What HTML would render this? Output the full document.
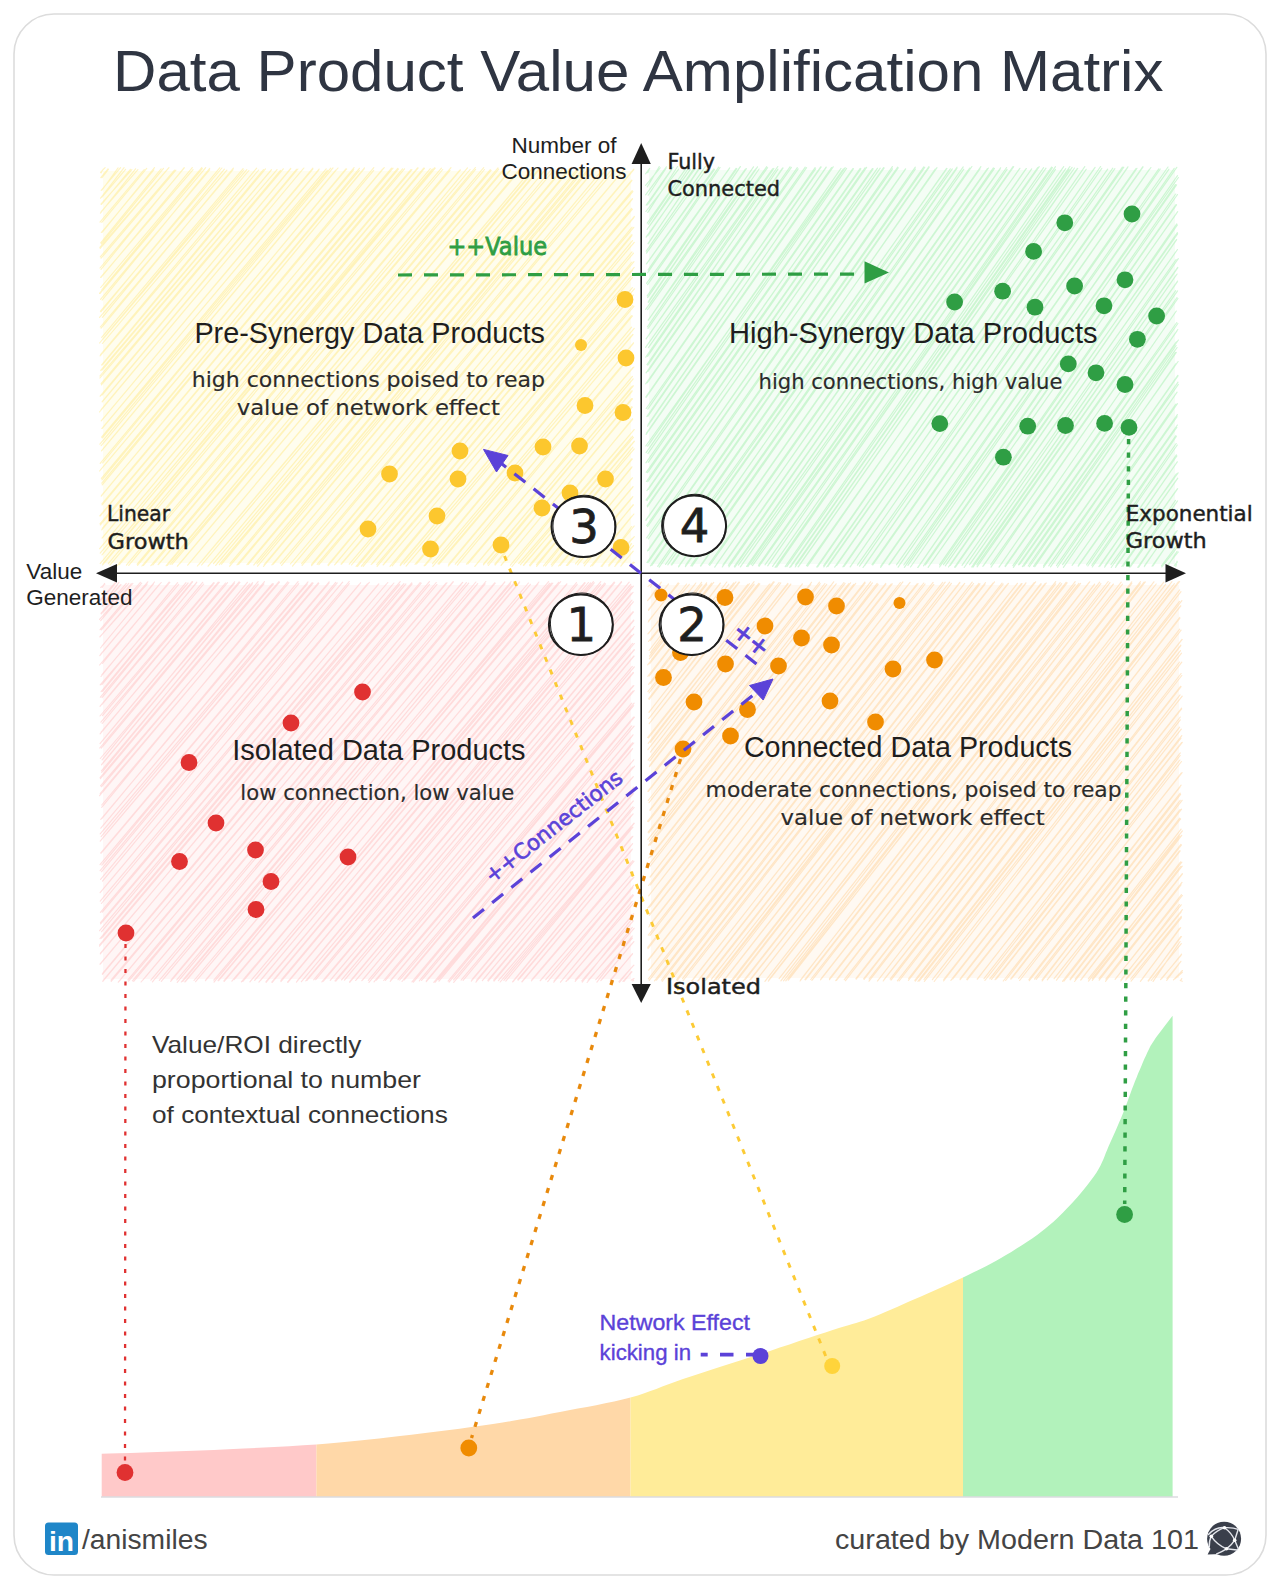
<!DOCTYPE html>
<html lang="en"><head><meta charset="utf-8"><title>Data Product Value Amplification Matrix</title>
<style>html,body{margin:0;padding:0;background:#fff}svg{display:block}</style></head>
<body>
<svg width="1280" height="1590" viewBox="0 0 1280 1590">
<defs><filter id="soft" x="-5%" y="-5%" width="110%" height="110%"><feGaussianBlur stdDeviation="0.6"/></filter></defs>
<rect width="1280" height="1590" fill="#ffffff"/>
<rect x="14" y="14" width="1252" height="1561" rx="40" ry="40" fill="#ffffff" stroke="#dcdcdc" stroke-width="1.6"/>
<text x="113.0" y="91.0" font-family='"Liberation Sans", Arial, sans-serif' font-size="58" fill="#2f3542" font-weight="normal" textLength="1050.5" lengthAdjust="spacingAndGlyphs">Data Product Value Amplification Matrix</text>
<g filter="url(#soft)">
<rect x="103" y="171" width="528" height="392" fill="#fffdee"/>
<path d="M100.5 172.3L105.1 167.7M101.1 173.0L103.3 169.0M100.8 177.6L108.0 168.8M102.0 177.7L108.4 169.4M101.2 190.4L120.6 167.6M102.1 190.0L118.1 167.9M101.9 197.1L125.6 169.4M100.6 198.2L124.1 167.7M101.5 204.5L130.4 169.3M100.9 204.1L131.9 169.6M101.2 211.7L137.9 169.7M100.4 213.1L135.6 168.8M100.0 222.1L144.2 169.5M101.8 222.4L146.7 168.4M101.3 232.5L153.9 170.0M102.3 232.1L154.5 167.7M101.4 243.8L163.5 168.4M100.7 242.8L161.1 168.9M99.9 247.4L168.7 167.9M100.2 248.4L169.0 167.7M101.1 258.2L175.9 170.1M100.3 256.8L174.5 170.2M100.0 268.0L184.1 168.2M101.0 269.3L184.2 167.5M100.6 277.3L193.1 169.6M101.0 277.5L192.3 167.7M101.8 289.8L202.3 168.7M100.7 287.5L201.8 167.7M100.1 293.3L205.7 167.7M99.5 293.3L205.0 168.6M102.1 300.1L209.7 168.3M100.5 299.3L209.6 170.0M100.9 311.8L219.7 167.8M100.5 311.2L221.9 168.0M102.4 317.4L224.4 169.1M99.6 317.4L226.9 170.1M100.3 327.0L232.9 169.8M101.1 328.2L233.4 168.2M102.5 339.3L243.9 170.0M101.7 337.4L243.1 168.6M99.6 343.0L246.8 169.6M102.4 343.5L248.9 170.5M100.6 354.7L256.7 168.1M100.1 355.9L258.7 170.0M101.5 365.0L263.5 169.5M102.2 365.0L265.5 168.9M101.9 370.1L271.1 170.4M100.7 370.3L271.5 169.7M99.9 376.0L276.8 169.9M99.9 378.0L277.0 169.5M101.1 383.6L280.5 170.4M101.4 384.8L283.3 168.8M102.0 395.1L290.7 168.4M100.2 396.2L290.7 168.8M102.2 401.7L296.5 169.3M102.2 401.9L297.9 169.0M101.1 409.6L303.9 168.0M99.5 412.0L303.1 168.9M101.2 420.8L312.8 169.2M101.9 420.2L312.9 168.2M101.8 428.5L318.9 169.8M102.2 428.3L319.1 169.0M101.6 437.1L326.2 168.9M102.3 437.9L327.3 170.3M101.2 445.7L333.0 167.9M99.9 444.2L330.7 168.2M101.5 450.9L338.0 168.0M101.6 450.5L335.8 170.1M100.2 463.4L346.6 169.0M102.5 463.0L345.9 168.8M100.5 469.9L353.7 169.7M99.6 471.0L354.1 167.6M101.4 478.4L359.3 170.5M101.9 479.8L359.4 168.3M101.8 483.2L364.1 168.8M102.2 484.9L364.5 167.9M101.2 496.1L373.8 167.7M101.6 495.3L373.7 170.3M101.9 503.9L384.2 167.7M102.1 505.0L382.6 169.2M100.3 515.8L393.0 168.2M99.8 515.8L391.5 168.1M100.4 525.0L398.5 169.0M100.0 523.8L397.7 168.3M101.7 529.8L402.6 168.9M102.3 528.4L404.5 168.8M102.0 538.0L410.9 169.6M102.4 537.8L411.9 169.6M100.7 547.5L417.6 167.9M99.7 548.7L418.2 168.0M102.0 554.9L424.4 168.3M100.2 553.1L423.7 168.0M100.3 563.5L432.3 169.1M100.2 563.5L430.3 168.6M102.6 564.9L435.2 168.1M103.0 563.5L434.5 167.8M108.3 563.6L441.4 168.2M109.9 565.1L442.7 169.5M119.4 564.7L450.0 170.5M117.2 565.7L451.0 167.6M128.7 565.4L460.5 169.9M126.4 565.1L459.8 170.0M137.6 565.3L470.1 169.5M137.2 564.2L467.5 167.9M141.9 566.0L475.6 169.4M143.5 565.5L475.4 167.5M152.9 565.0L484.5 169.5M150.9 565.7L483.7 167.7M158.8 564.1L491.1 170.4M158.1 564.6L490.3 169.6M167.3 565.4L498.0 167.9M166.2 565.7L498.7 169.2M170.1 564.3L504.2 169.6M172.0 564.4L503.8 168.9M177.4 566.2L509.9 170.4M179.8 563.6L510.7 170.0M188.4 564.3L520.0 170.3M187.7 565.2L519.8 169.1M197.4 566.0L530.9 170.2M199.2 564.2L532.0 169.0M201.6 565.0L535.2 168.4M202.0 564.5L534.8 170.0M208.2 566.0L538.6 170.3M208.1 566.2L539.1 168.6M215.7 565.3L546.0 168.8M213.5 563.6L545.2 170.0M221.5 564.2L551.8 169.0M219.3 564.6L553.9 170.2M229.7 566.2L563.0 169.1M230.0 563.6L562.3 168.9M238.6 564.4L569.1 170.3M237.0 564.9L569.9 168.4M248.3 564.3L579.6 168.4M247.0 564.7L578.1 168.0M253.7 565.0L583.9 170.2M253.9 564.8L583.6 168.1M256.9 563.8L588.9 168.3M257.6 566.2L590.4 168.7M264.2 564.6L596.0 167.7M263.5 566.4L595.3 169.0M273.3 564.1L603.8 168.2M271.9 564.8L605.9 170.0M280.3 563.6L614.6 170.2M281.6 565.3L612.5 168.7M292.5 566.1L625.2 168.2M290.4 564.0L623.9 169.5M302.1 565.4L633.8 169.7M301.6 563.6L633.8 169.0M311.6 564.4L631.9 180.7M311.6 565.6L631.8 180.2M318.9 564.7L632.2 190.7M317.2 564.4L632.9 191.7M328.0 564.9L632.2 199.3M328.2 565.6L632.4 198.7M334.6 564.8L632.3 209.3M335.4 564.2L631.6 208.3M341.5 564.1L633.9 217.7M341.0 564.1L634.4 216.4M349.3 564.2L633.8 227.3M351.5 565.0L632.1 227.1M357.5 566.3L631.9 235.7M356.1 566.4L631.9 234.7M361.4 566.2L634.2 242.4M363.2 566.3L632.5 240.7M372.3 563.6L633.5 253.1M371.2 564.5L632.0 251.9M377.1 566.4L631.9 262.0M376.7 564.6L634.0 261.6M383.1 564.9L632.6 270.1M383.6 564.6L634.2 267.4M392.2 565.8L631.6 275.5M390.0 566.3L632.3 277.7M400.4 564.3L634.4 288.8M400.2 565.6L632.4 287.7M406.1 566.2L633.4 295.0M403.9 564.2L632.9 295.0M415.0 564.3L632.8 305.5M416.6 564.0L633.9 306.3M425.3 565.3L632.5 316.0M424.1 565.8L631.7 315.6M432.5 563.7L631.6 327.1M432.8 566.4L634.2 328.4M438.0 563.8L633.0 334.7M439.1 564.2L632.8 334.4M448.3 566.0L633.5 342.8M448.6 564.4L633.2 343.6M455.3 564.2L632.2 353.3M457.4 565.2L632.5 354.0M466.5 564.2L633.9 367.0M467.9 563.8L632.9 367.5M477.0 563.6L632.4 376.4M474.8 566.4L633.2 378.9M483.4 564.8L632.3 386.2M483.6 563.8L633.3 385.8M487.6 563.9L632.1 391.4M488.3 565.5L632.1 390.7M494.8 564.1L632.4 398.8M495.1 565.1L631.7 398.5M501.1 565.4L631.8 406.6M501.5 564.7L632.3 407.1M510.4 565.2L632.6 419.3M512.0 566.5L632.6 418.6M518.7 563.5L634.2 429.6M520.5 564.7L634.1 429.7M523.4 565.2L633.4 437.4M523.7 565.4L632.6 436.2M529.5 565.1L634.3 441.2M530.1 565.9L634.4 441.5M536.6 566.4L632.9 447.2M536.5 564.7L634.2 448.9M543.5 565.9L632.2 459.2M545.5 566.0L632.0 458.7M551.3 564.7L631.9 466.8M551.9 566.2L631.6 467.7M558.6 566.0L631.9 478.3M560.2 565.4L632.4 477.8M567.6 565.5L632.8 487.1M566.4 565.4L633.0 486.5M577.5 564.9L632.0 497.8M575.5 563.9L632.8 496.6M583.7 563.6L633.4 504.9M584.3 565.8L633.0 504.8M590.6 566.4L631.9 516.0M592.5 565.7L633.9 514.0M601.1 566.4L634.2 526.0M602.0 566.3L631.7 526.5M608.9 566.2L632.3 538.4M608.8 565.0L634.3 536.6M615.8 564.5L631.6 543.6M614.8 566.3L633.5 545.7M622.1 563.8L633.1 551.3M620.8 566.1L633.2 551.2M629.6 566.5L633.4 562.0M631.6 564.3L634.5 562.5" stroke="#ffec99" stroke-width="1.15" stroke-opacity="0.6" fill="none" stroke-linecap="round"/>
</g>
<g filter="url(#soft)">
<rect x="649" y="170" width="526" height="394" fill="#f4fdf5"/>
<path d="M647.8 172.7L649.4 168.7M645.6 173.8L649.7 168.4M647.3 186.9L659.3 166.5M645.6 185.4L660.2 167.8M648.2 195.2L666.0 168.5M645.6 194.8L666.4 166.8M646.2 205.2L673.1 167.1M647.4 204.9L671.8 169.3M645.9 211.5L678.7 169.1M647.8 212.4L677.6 166.5M647.2 223.1L686.4 167.8M648.3 224.3L685.2 169.2M647.1 229.5L689.5 166.7M647.8 228.3L690.4 169.3M646.1 237.1L695.2 168.4M647.9 235.8L694.6 167.4M648.2 243.8L700.2 166.5M648.0 243.7L699.4 168.7M646.2 251.2L705.3 166.6M646.5 253.1L706.7 169.0M646.3 264.0L713.9 168.9M647.1 263.1L714.5 169.4M648.1 269.9L718.7 167.2M647.7 272.7L720.1 167.5M646.5 283.3L729.5 168.4M647.6 284.6L729.7 167.9M647.6 297.6L736.8 168.7M647.2 295.9L736.1 168.4M648.2 301.9L740.1 166.8M648.3 302.5L740.4 166.6M647.6 309.6L746.4 168.7M645.7 309.4L745.4 169.0M648.2 320.1L755.5 169.2M648.3 320.2L753.5 166.8M648.0 328.5L759.1 169.0M647.4 326.9L757.5 166.8M646.1 338.8L766.7 166.6M646.3 338.7L767.6 167.6M648.4 347.7L773.9 168.4M645.6 347.4L772.6 168.8M647.6 356.4L778.0 169.1M645.8 357.2L777.8 166.5M647.8 365.1L782.5 168.0M647.0 364.6L783.1 168.0M648.0 371.5L791.4 167.4M646.1 372.9L790.0 166.8M645.7 383.9L798.2 168.9M647.4 382.7L797.3 167.7M645.8 397.1L805.2 167.1M646.3 397.1L806.6 167.6M646.2 408.5L815.6 168.8M647.8 409.1L815.1 167.5M648.0 416.2L821.2 167.0M646.8 416.6L820.7 166.9M648.2 424.4L826.2 167.4M647.6 426.2L826.1 167.0M646.5 433.1L831.5 167.5M646.1 434.4L833.2 166.8M645.8 446.0L843.4 168.9M647.7 446.2L841.0 168.4M646.1 452.7L845.2 167.7M647.9 453.6L846.6 168.4M645.9 462.8L852.9 168.7M648.2 462.3L853.5 168.7M646.2 472.3L860.8 168.8M647.6 472.7L860.2 168.4M646.4 481.5L865.0 167.8M647.8 481.7L866.6 167.3M646.9 490.6L872.4 168.5M648.3 489.3L873.1 168.8M647.0 500.6L877.5 168.1M646.0 500.0L880.2 168.1M647.2 505.9L884.2 168.0M647.4 506.8L883.6 167.7M646.1 519.6L892.5 168.8M645.9 520.5L892.4 166.7M646.7 525.6L898.2 167.8M647.6 526.6L897.7 167.2M648.3 538.8L905.7 168.9M646.7 537.8L905.5 168.8M647.4 550.8L915.3 167.2M648.4 550.4L915.5 169.0M646.9 562.5L923.8 166.9M648.0 562.7L924.7 167.3M650.4 565.8L928.9 166.5M651.8 565.3L929.1 167.4M657.7 566.4L937.0 167.6M659.2 567.1L935.2 169.0M667.8 564.9L946.6 168.4M665.5 564.5L947.0 168.5M671.2 564.9L950.3 168.8M671.9 565.0L952.3 168.9M678.6 566.3L956.9 168.5M678.6 566.9L957.1 167.1M685.4 566.7L963.8 169.1M685.5 565.3L963.2 166.9M690.8 565.9L969.7 168.0M692.1 566.1L971.9 166.5M700.7 566.2L980.0 169.0M700.4 565.8L980.9 166.7M708.8 564.6L987.4 168.5M709.7 565.5L988.5 168.0M716.3 564.6L994.5 168.4M714.7 567.1L993.4 167.9M722.9 565.1L1000.6 167.8M722.3 567.0L1000.2 169.0M728.4 565.3L1007.1 169.4M728.9 566.9L1006.6 167.5M734.4 566.4L1013.7 166.6M734.8 567.2L1013.0 166.6M738.4 565.1L1019.9 168.3M740.4 566.9L1019.8 168.3M747.8 566.6L1026.4 168.5M746.5 566.5L1025.9 168.8M751.1 564.6L1031.5 169.2M752.5 565.6L1031.7 168.9M758.5 565.4L1037.7 167.5M759.0 566.4L1039.2 166.7M765.0 564.9L1046.0 168.2M767.7 565.8L1043.6 167.7M775.1 567.4L1052.4 167.7M772.6 566.4L1051.6 167.0M776.5 566.6L1055.5 169.4M776.7 567.1L1055.5 166.6M785.2 566.7L1063.7 166.7M786.8 566.6L1065.7 168.7M790.9 566.6L1069.1 169.3M789.8 567.4L1069.9 166.5M795.2 567.0L1072.1 167.4M795.4 565.0L1074.5 168.0M798.8 566.2L1077.7 168.5M798.1 566.9L1077.4 168.4M806.5 565.7L1086.2 169.3M807.6 566.2L1084.8 166.7M816.7 567.0L1094.3 168.3M817.6 567.0L1095.1 167.4M823.7 565.6L1101.8 168.3M823.8 566.9L1100.6 166.5M827.9 566.3L1107.7 169.2M826.7 567.0L1107.7 169.1M834.7 567.1L1114.9 168.6M836.6 565.5L1112.8 168.2M842.9 566.8L1123.8 167.2M844.1 566.5L1122.4 167.1M850.1 566.9L1127.9 166.8M850.2 566.8L1127.2 168.2M859.5 566.1L1136.9 168.3M857.4 565.1L1136.0 168.6M864.6 565.7L1143.1 166.9M863.0 567.5L1142.7 166.8M872.8 565.0L1150.9 167.5M872.0 564.6L1149.2 169.5M880.8 566.2L1158.8 168.8M880.6 567.3L1160.3 169.0M889.4 564.6L1168.0 167.0M888.9 564.7L1169.0 169.1M898.1 567.2L1174.2 168.3M896.5 564.9L1176.8 167.3M904.4 567.4L1177.5 175.7M903.8 565.0L1178.4 177.5M907.9 565.3L1176.6 184.9M910.5 567.0L1175.6 184.5M917.7 567.5L1175.7 194.0M918.0 567.3L1177.5 194.5M925.4 564.8L1176.5 204.8M923.5 565.9L1176.0 204.7M930.0 564.5L1177.7 211.6M928.1 567.3L1176.2 213.8M939.5 564.9L1176.8 223.9M939.6 567.0L1177.4 225.0M945.3 565.9L1177.4 232.6M943.5 564.7L1177.6 233.8M950.3 565.3L1176.7 239.6M948.5 567.0L1176.5 239.6M955.4 567.2L1175.8 251.8M954.6 567.2L1177.5 249.5M962.0 565.3L1176.1 259.5M964.2 567.5L1178.3 258.7M969.6 564.7L1177.7 267.4M969.8 564.5L1177.9 267.6M971.7 567.0L1177.1 274.0M973.0 567.2L1176.2 275.2M977.1 566.8L1177.6 281.0M976.8 564.8L1177.3 281.9M982.8 566.3L1177.6 290.9M983.9 565.1L1175.7 290.6M990.7 564.7L1177.9 298.5M991.0 567.1L1177.0 297.5M999.0 567.1L1176.3 311.0M1000.1 565.6L1176.0 311.5M1005.0 566.1L1176.8 322.5M1005.3 566.6L1177.9 323.5M1012.9 565.6L1177.8 329.5M1013.4 567.4L1177.0 330.8M1019.4 564.6L1178.4 340.0M1018.4 564.8L1176.3 341.8M1022.4 566.6L1176.1 345.5M1023.9 566.2L1177.1 347.5M1029.4 566.7L1175.6 352.4M1028.2 566.0L1176.3 352.4M1033.5 566.3L1178.1 361.5M1034.8 566.7L1176.0 363.6M1043.5 565.8L1178.0 375.8M1043.5 567.3L1177.8 375.3M1048.7 565.8L1178.4 384.4M1050.5 566.9L1178.0 382.2M1057.5 567.3L1176.2 393.2M1056.5 565.6L1177.1 392.1M1062.6 564.6L1175.9 404.1M1063.4 567.3L1177.4 403.6M1072.7 564.6L1177.4 414.7M1072.1 565.3L1177.1 416.7M1078.3 566.1L1176.8 427.5M1078.4 565.4L1177.4 425.0M1087.8 566.0L1176.3 436.5M1086.5 564.9L1175.9 435.5M1091.8 565.4L1176.2 443.5M1092.3 567.0L1177.3 445.0M1098.9 566.6L1176.9 455.9M1100.1 565.9L1176.4 454.9M1105.1 565.6L1177.3 461.8M1104.6 567.1L1176.2 463.5M1111.2 567.5L1176.4 473.8M1110.9 564.7L1178.1 472.8M1116.0 565.8L1177.7 478.2M1115.5 567.4L1177.7 478.3M1121.8 566.5L1177.3 488.9M1123.2 566.1L1177.7 488.6M1130.4 566.9L1177.6 500.9M1129.4 567.1L1175.5 500.4M1137.8 567.4L1177.2 509.8M1138.7 567.1L1177.3 509.7M1144.3 566.7L1176.4 519.1M1144.6 565.7L1176.5 520.3M1153.1 565.8L1176.1 531.3M1152.1 566.2L1177.2 530.7M1161.8 567.0L1178.0 546.4M1161.4 565.8L1178.2 543.5M1166.8 566.0L1178.3 552.0M1166.8 567.5L1177.1 551.3M1174.2 565.6L1177.3 562.0M1175.8 566.5L1177.1 561.2" stroke="#b2f2bb" stroke-width="1.15" stroke-opacity="0.6" fill="none" stroke-linecap="round"/>
</g>
<g filter="url(#soft)">
<rect x="103" y="585" width="528" height="394" fill="#fff6f6"/>
<path d="M100.7 587.5L104.9 584.1M102.4 587.3L104.5 583.4M100.5 599.6L115.8 582.0M100.5 601.0L115.8 583.0M102.2 606.1L120.9 584.5M102.2 605.3L118.9 582.4M101.0 613.4L126.3 583.4M101.3 613.9L128.8 583.4M100.7 620.7L131.3 583.6M99.5 619.3L132.9 583.3M100.1 629.7L140.4 582.3M101.4 629.8L141.7 583.2M99.9 636.8L147.8 581.8M99.8 636.8L147.1 584.0M101.9 646.0L153.5 583.8M100.5 648.0L154.5 582.0M99.8 655.6L161.2 582.5M100.8 654.1L159.6 584.2M102.4 663.5L169.1 582.2M99.6 665.0L169.8 582.4M101.9 674.6L178.7 584.4M101.0 676.5L177.6 582.7M100.2 684.8L188.1 583.0M101.9 684.6L186.0 582.6M102.4 691.3L192.6 581.8M101.1 691.6L192.1 581.7M102.0 697.6L196.8 582.1M100.4 697.2L196.1 583.5M100.0 706.3L202.7 582.3M102.0 704.5L203.7 584.0M100.0 716.0L213.7 582.6M102.4 715.6L214.3 583.0M100.9 722.2L219.3 582.3M102.2 723.5L218.3 582.2M100.1 733.9L225.5 583.0M101.1 732.1L227.5 582.7M101.2 742.0L234.6 581.8M100.0 743.6L234.3 583.5M101.2 748.1L239.9 582.4M99.7 748.0L239.1 581.9M100.3 758.5L249.7 583.8M102.1 759.9L247.4 582.3M101.5 764.7L252.6 582.7M101.5 764.8L252.3 584.0M101.4 770.9L258.3 584.2M101.7 772.5L258.1 581.6M100.1 777.6L264.5 581.6M100.4 778.7L263.9 584.0M101.6 786.7L272.4 583.6M100.5 785.9L273.5 583.8M99.6 795.7L278.9 581.6M100.2 793.5L279.5 582.1M101.7 805.0L288.9 582.7M101.7 807.3L287.7 581.8M100.8 819.4L298.8 583.7M102.0 818.5L298.1 581.7M100.8 828.2L308.0 581.9M101.8 826.8L307.3 583.9M101.1 836.6L313.1 583.1M100.2 833.9L312.2 582.7M100.4 840.8L318.8 583.5M100.2 841.1L318.3 582.8M100.6 853.0L329.2 581.9M101.2 853.1L329.0 583.1M100.0 864.6L337.2 582.9M101.8 865.1L335.7 582.4M100.1 870.6L342.7 582.1M101.6 871.7L342.2 582.5M100.6 879.4L349.2 581.5M102.5 881.1L349.3 583.7M101.2 891.3L360.6 582.8M100.1 892.6L359.2 584.3M101.4 903.5L369.3 582.3M100.2 901.1L367.4 583.8M100.4 912.3L378.5 584.0M102.3 912.2L378.9 584.0M100.5 922.7L387.8 582.5M100.6 923.8L386.4 584.0M99.6 930.7L393.0 584.0M101.6 931.7L393.9 583.0M100.0 938.6L400.2 581.7M101.6 938.2L399.7 584.4M99.6 944.9L403.9 583.7M99.5 946.1L405.9 583.9M100.3 953.8L411.7 582.8M100.5 953.1L412.2 584.0M100.0 964.2L421.2 583.2M100.5 963.9L420.1 582.5M102.4 974.5L429.5 584.4M102.4 973.6L429.4 581.7M103.2 980.4L437.0 584.4M102.8 981.4L436.2 582.5M111.0 980.1L446.9 582.8M111.2 981.5L446.0 583.2M119.3 981.2L452.9 581.8M118.3 982.2L453.3 581.8M127.9 979.8L462.7 582.3M128.6 981.2L461.8 583.2M133.7 981.3L466.4 582.7M132.4 980.8L468.7 583.2M143.0 979.8L477.7 583.7M141.1 982.0L475.9 582.0M152.4 981.8L485.1 583.8M150.9 980.2L485.8 581.5M159.3 980.4L494.7 582.8M161.3 981.4L495.2 583.2M171.0 980.0L504.6 582.5M170.7 981.5L504.8 581.9M177.2 982.3L511.1 581.6M176.8 979.8L510.5 583.9M182.8 981.5L514.7 582.1M181.3 982.0L515.7 581.8M184.8 981.9L519.0 583.2M185.4 981.6L519.6 581.9M195.6 981.6L530.4 584.3M194.0 980.5L528.4 583.0M205.9 979.6L538.0 584.0M205.5 980.7L538.9 582.0M214.0 982.1L548.6 581.7M213.8 980.1L549.5 583.3M218.0 980.6L552.8 583.2M218.6 980.6L551.4 583.2M223.9 980.9L560.7 581.6M224.2 981.5L558.6 582.3M231.9 981.2L566.7 584.4M234.1 979.6L566.8 583.8M242.9 981.4L576.5 582.6M241.4 981.9L577.2 584.3M249.9 981.8L585.2 583.0M250.9 980.6L584.6 582.7M254.7 980.5L590.6 582.9M254.8 980.2L588.4 582.5M258.9 982.1L594.2 582.8M260.6 980.4L593.4 581.7M266.0 981.7L600.7 584.3M266.1 982.3L600.8 581.7M272.2 982.5L605.5 583.8M271.8 982.1L604.6 583.0M280.9 980.3L614.1 582.0M280.9 981.6L614.7 582.7M287.5 982.1L621.6 582.1M287.9 982.4L621.4 581.7M297.4 980.5L629.2 582.1M296.4 982.1L630.7 584.3M301.4 981.7L633.4 586.1M302.5 980.5L631.7 586.2M307.0 980.5L633.0 592.3M305.8 980.9L631.5 593.3M315.7 979.7L633.3 601.8M313.7 979.8L632.0 600.1M321.9 981.9L632.8 611.8M323.4 981.2L633.5 612.0M330.2 980.3L633.6 620.0M330.3 980.4L633.8 620.7M335.8 981.1L634.3 626.5M335.0 980.9L633.5 628.5M344.5 980.2L633.8 634.2M341.6 979.9L631.7 635.4M349.7 982.3L632.6 643.4M349.7 981.7L634.3 643.5M356.0 980.2L634.4 649.9M355.6 980.5L633.9 649.8M362.7 979.8L633.7 656.1M361.9 980.7L634.1 656.1M368.9 982.3L634.3 666.9M368.3 980.3L632.3 666.4M374.0 981.8L633.4 672.8M376.4 980.1L633.2 672.4M385.4 980.3L633.8 685.6M383.7 980.5L633.0 685.8M390.2 981.3L632.9 691.2M390.8 980.1L634.2 690.6M399.7 980.0L634.1 703.1M398.0 979.6L631.8 703.1M404.3 980.0L633.7 705.7M402.0 981.5L631.8 706.5M413.4 982.1L634.4 717.2M412.0 981.9L633.6 717.2M419.3 980.8L631.8 725.9M421.6 980.4L634.1 726.2M426.3 980.8L632.0 736.5M426.3 981.7L633.0 734.8M433.8 982.3L632.5 742.8M435.2 982.1L633.7 743.0M438.5 979.7L631.6 750.1M439.0 981.2L632.6 748.6M448.1 981.1L633.1 760.7M449.1 982.1L633.7 759.8M453.7 982.4L632.7 767.2M453.6 979.9L634.5 766.1M463.1 980.3L633.3 776.7M461.1 980.1L631.8 778.1M472.0 979.6L633.6 787.2M471.3 981.1L632.4 789.1M475.9 982.1L633.0 793.2M476.7 980.2L633.4 793.7M482.4 980.7L633.1 801.2M482.3 980.5L633.4 801.0M487.8 980.3L634.2 807.5M488.2 981.1L632.9 806.8M494.0 981.1L633.1 813.9M493.7 980.2L632.0 814.8M500.2 982.0L634.2 823.4M498.4 980.6L634.0 823.2M503.9 980.3L631.8 827.9M505.8 981.1L632.9 827.1M513.1 981.6L632.8 836.3M512.5 981.8L631.9 836.9M518.2 980.2L632.6 843.6M517.8 979.6L632.1 844.3M521.9 981.7L632.3 849.2M522.1 982.0L631.8 850.1M531.4 980.8L633.9 861.3M531.9 979.6L632.8 860.6M540.2 980.7L633.4 872.1M540.4 980.7L633.2 872.4M547.7 981.6L632.6 878.2M545.8 979.7L633.8 877.3M553.8 982.2L633.8 885.2M554.1 980.9L632.9 887.6M560.5 982.2L632.8 894.7M560.6 982.0L633.5 895.4M566.0 981.5L633.2 903.6M568.1 979.9L632.2 901.5M575.3 979.8L633.8 913.9M575.2 981.5L633.6 913.6M581.8 980.8L633.3 920.8M582.2 982.1L631.9 918.8M587.1 982.5L632.3 927.4M588.1 980.3L634.1 928.3M595.8 979.7L632.4 938.0M596.9 982.1L632.3 936.0M600.8 980.6L632.9 942.5M600.9 980.6L633.9 941.6M610.6 979.7L632.4 954.2M610.2 981.2L632.5 953.5M618.9 981.6L633.9 965.2M619.4 982.3L632.8 966.0M624.0 981.4L631.6 971.6M622.9 981.3L632.0 971.8M632.8 981.0L633.5 980.2M631.3 980.1L634.0 978.6" stroke="#ffc9c9" stroke-width="1.15" stroke-opacity="0.6" fill="none" stroke-linecap="round"/>
</g>
<g filter="url(#soft)">
<rect x="651" y="585" width="528" height="393" fill="#fff9f2"/>
<path d="M648.1 586.4L651.3 583.9M650.4 587.3L653.0 582.3M649.6 598.6L660.6 583.6M647.6 600.6L661.3 582.2M648.5 609.5L668.5 584.2M648.5 610.3L668.5 583.9M648.7 620.5L679.0 583.4M648.2 622.0L678.2 582.9M648.8 633.2L686.6 584.0M647.9 633.9L689.3 584.3M648.4 641.5L695.8 583.0M650.3 640.7L695.0 584.1M649.1 650.5L701.6 582.3M650.2 652.8L701.9 584.3M649.3 658.8L706.7 584.3M649.5 656.1L706.6 582.8M649.7 663.7L713.7 582.4M647.7 664.9L711.6 583.2M649.3 675.8L720.2 583.0M647.8 676.3L720.5 583.2M648.6 684.4L726.8 582.0M650.3 683.4L728.9 584.1M647.9 691.6L736.0 581.9M649.0 693.0L733.7 582.9M649.1 699.5L739.6 582.1M648.7 698.6L738.9 582.2M649.0 712.5L747.8 584.3M649.0 712.2L749.5 583.6M649.8 717.4L754.1 581.6M648.7 718.5L754.2 584.2M649.2 723.7L759.8 583.9M649.6 723.2L758.8 583.3M647.6 737.5L770.0 583.9M648.5 738.0L769.3 584.3M650.3 742.4L773.4 581.8M648.2 743.3L774.3 582.0M647.9 749.7L779.1 582.5M650.4 752.1L780.8 582.9M649.8 760.9L787.8 583.4M648.1 760.1L788.1 583.9M649.7 765.4L790.8 584.4M649.5 766.6L790.7 584.0M650.2 778.8L802.4 583.9M649.3 777.9L802.4 583.9M648.4 791.3L810.7 584.3M647.8 791.3L811.5 582.3M648.2 800.5L819.5 582.2M649.0 802.7L820.2 583.6M649.9 810.6L826.7 584.3M650.0 809.5L824.9 583.5M648.5 821.6L836.2 583.9M647.5 821.3L833.7 581.8M648.8 833.0L843.9 582.5M648.1 832.2L845.1 583.4M647.8 839.6L850.6 582.8M649.5 841.2L848.8 583.5M650.0 845.1L853.8 584.4M648.6 845.2L855.7 583.3M648.7 858.0L865.2 583.0M650.5 857.0L864.8 582.0M647.5 866.3L872.4 582.9M649.9 866.5L870.6 581.8M650.1 876.8L878.1 584.3M650.2 877.2L877.2 583.4M650.4 885.0L885.8 583.4M648.6 885.5L885.8 584.2M648.6 895.9L891.1 584.0M649.6 894.7L892.2 583.8M649.7 907.2L900.3 582.5M647.9 907.8L902.9 581.9M649.2 914.8L909.0 583.7M649.4 915.5L910.1 582.4M648.8 927.0L917.1 583.9M649.5 925.2L918.1 583.6M648.3 935.1L925.1 584.0M649.9 935.6L923.8 583.0M648.0 948.7L933.1 582.4M647.7 947.3L933.8 584.4M648.1 959.8L945.2 582.1M648.5 960.2L942.7 582.3M648.7 970.1L949.7 582.1M650.2 968.6L951.4 583.4M648.4 978.8L959.8 582.9M649.2 980.4L959.8 582.3M656.5 980.1L964.7 583.4M654.5 980.8L964.0 584.0M662.2 981.3L972.2 582.2M661.4 980.1L973.6 583.5M670.2 978.8L978.9 583.4M670.7 980.4L980.0 583.8M677.1 980.7L985.5 582.7M676.7 979.5L985.0 584.1M683.2 980.5L994.5 581.9M682.6 978.7L993.0 583.0M692.7 980.2L1002.1 583.2M691.5 981.0L1003.2 584.0M697.8 980.8L1007.5 584.2M698.5 980.7L1008.5 583.4M705.5 980.6L1017.4 583.3M705.9 978.7L1017.1 584.0M711.5 979.2L1021.3 583.5M713.8 980.9L1022.1 583.6M718.1 979.5L1025.8 583.4M716.0 979.3L1025.9 582.8M725.4 978.6L1035.6 581.8M723.7 980.4L1034.2 582.5M731.1 980.9L1041.3 584.0M732.9 980.1L1040.7 583.8M736.4 979.8L1045.3 583.4M737.1 980.3L1046.3 583.0M743.2 981.1L1055.7 583.9M745.4 979.5L1055.7 581.7M749.9 979.9L1061.7 583.6M750.9 979.5L1060.2 582.7M756.0 980.7L1067.1 582.8M756.0 980.6L1066.1 582.3M764.9 981.4L1075.2 584.3M765.6 980.7L1075.2 581.7M768.3 981.1L1080.6 583.4M769.0 979.6L1078.9 583.4M779.1 978.6L1088.9 582.6M780.9 980.9L1089.7 581.8M783.5 980.8L1094.6 584.5M785.8 980.9L1094.6 584.0M788.3 980.2L1099.7 582.1M788.8 978.6L1100.9 583.6M800.6 979.8L1110.0 582.7M800.1 981.0L1108.2 581.5M804.9 979.6L1113.3 584.0M805.5 979.9L1113.4 584.2M810.7 979.5L1122.5 584.2M811.9 980.4L1121.2 582.2M821.0 978.8L1131.8 581.9M820.5 979.9L1131.8 583.4M829.5 978.7L1140.5 581.7M829.5 979.7L1140.3 583.6M835.7 980.6L1145.3 581.9M836.5 980.3L1144.1 582.2M844.3 979.7L1156.2 584.0M845.5 980.7L1153.9 581.8M855.9 978.6L1163.8 582.2M856.2 979.2L1165.6 584.3M864.1 979.3L1172.0 581.6M863.6 978.8L1174.4 583.6M869.1 979.0L1178.4 581.8M869.0 981.2L1179.6 581.5M877.4 981.0L1181.0 591.6M877.6 980.9L1179.7 589.9M884.0 979.7L1179.5 601.4M883.2 981.0L1181.9 600.6M890.1 979.1L1180.8 605.9M891.0 980.1L1180.6 605.8M899.1 981.0L1179.8 617.4M897.4 980.8L1179.9 618.1M908.6 978.5L1179.7 629.2M908.4 980.3L1181.1 630.2M914.8 980.4L1182.2 639.5M915.3 981.2L1182.0 639.4M919.4 981.0L1180.8 645.6M917.9 981.3L1180.8 645.1M924.0 979.5L1180.5 650.6M924.4 981.4L1181.5 653.1M934.2 981.5L1181.8 662.1M932.4 979.7L1179.6 662.0M943.7 979.5L1181.8 675.5M943.6 980.9L1181.1 673.5M950.9 980.4L1180.6 686.3M952.8 979.0L1181.1 686.6M960.1 979.7L1182.2 696.1M960.1 978.8L1180.1 694.9M966.7 979.3L1181.6 709.0M967.2 979.8L1181.6 708.2M977.4 979.2L1180.3 717.0M977.2 979.1L1180.3 719.9M984.9 980.5L1181.3 729.2M984.0 978.7L1179.7 727.1M989.8 978.8L1181.0 738.1M991.5 979.3L1181.8 735.7M995.1 979.7L1181.6 742.7M996.4 978.8L1182.3 742.4M1003.3 981.0L1180.2 755.5M1005.6 980.5L1180.3 752.9M1011.3 979.0L1181.5 761.5M1010.6 979.0L1179.9 760.0M1019.6 980.5L1181.2 773.0M1018.6 978.5L1182.1 772.7M1029.3 980.7L1179.9 787.2M1028.9 979.6L1181.1 785.1M1036.2 979.4L1180.6 794.4M1034.5 979.1L1180.2 793.2M1042.1 979.9L1182.1 800.3M1042.2 981.0L1180.2 800.3M1047.3 979.9L1181.6 809.1M1047.3 979.9L1180.0 809.5M1054.1 978.7L1180.6 818.9M1056.5 980.2L1179.7 818.2M1063.9 981.1L1182.4 830.9M1062.5 981.3L1181.1 829.1M1070.0 979.1L1179.7 835.9M1070.2 979.9L1181.7 835.3M1075.2 979.1L1181.5 844.9M1074.6 981.5L1180.9 844.4M1080.6 980.0L1179.6 850.8M1080.8 980.1L1180.2 850.9M1088.3 978.9L1181.9 862.1M1088.5 981.1L1180.6 861.9M1092.3 980.3L1182.2 866.2M1092.3 978.6L1180.8 866.4M1099.2 980.2L1182.3 874.1M1099.0 978.5L1182.3 873.5M1105.5 981.3L1181.0 884.8M1105.8 979.1L1182.0 882.4M1115.2 979.2L1182.4 895.5M1115.1 979.5L1181.5 894.6M1120.8 981.0L1179.5 904.5M1121.0 979.9L1181.2 904.8M1126.0 978.9L1182.4 909.6M1125.7 980.1L1181.2 911.8M1130.6 979.0L1181.3 916.4M1131.1 981.2L1181.5 917.6M1140.4 981.3L1180.7 927.6M1142.4 978.8L1179.6 928.3M1148.4 981.1L1180.8 936.6M1148.1 980.9L1181.5 936.5M1151.2 980.5L1181.3 943.7M1153.1 981.4L1180.1 941.5M1161.5 979.0L1181.6 954.1M1160.5 979.6L1181.1 955.3M1166.7 980.4L1180.9 961.3M1166.9 978.5L1180.9 961.3M1174.7 979.0L1182.4 972.3M1173.5 979.8L1182.4 970.5M1182.3 981.2L1180.2 980.5M1180.5 980.5L1181.8 978.7" stroke="#ffd8a8" stroke-width="1.15" stroke-opacity="0.6" fill="none" stroke-linecap="round"/>
</g>
<path d="M101.7 1453.8 L109.2 1453.6 L118.9 1453.3 L130.6 1452.9 L143.6 1452.5 L157.5 1452.1 L171.8 1451.6 L186.2 1451.1 L200.0 1450.5 L213.9 1449.9 L228.6 1449.2 L243.8 1448.5 L259.1 1447.8 L274.4 1447.0 L289.2 1446.2 L303.3 1445.3 L316.4 1444.4 L316.4 1496.5 L101.7 1496.5Z" fill="#ffc9c9"/>
<path d="M316.4 1444.4 L328.4 1443.5 L339.4 1442.5 L349.7 1441.6 L359.7 1440.6 L369.4 1439.5 L379.2 1438.4 L389.3 1437.2 L400.0 1436.0 L411.4 1434.7 L423.2 1433.3 L435.3 1431.8 L447.5 1430.2 L459.6 1428.7 L471.4 1427.1 L482.6 1425.5 L493.0 1424.0 L502.6 1422.5 L511.5 1421.1 L519.9 1419.6 L527.9 1418.2 L535.8 1416.7 L543.6 1415.2 L551.6 1413.6 L560.0 1412.0 L568.8 1410.3 L577.8 1408.6 L587.0 1406.9 L596.2 1405.2 L605.2 1403.3 L614.1 1401.5 L622.5 1399.5 L630.5 1397.5 L630.5 1496.5 L316.4 1496.5Z" fill="#ffd8a8"/>
<path d="M630.5 1397.5 L637.8 1395.4 L644.3 1393.3 L650.4 1391.1 L656.3 1388.9 L662.3 1386.6 L668.5 1384.2 L675.4 1381.7 L683.0 1379.0 L691.5 1376.2 L700.7 1373.2 L710.5 1370.1 L720.5 1366.8 L730.7 1363.6 L740.9 1360.3 L750.9 1357.1 L760.5 1354.0 L770.0 1350.9 L779.8 1347.6 L789.5 1344.4 L799.2 1341.1 L808.5 1338.0 L817.3 1335.1 L825.4 1332.4 L832.7 1330.0 L838.9 1328.0 L844.0 1326.5 L848.4 1325.2 L852.4 1324.1 L856.1 1323.0 L859.9 1321.8 L864.1 1320.4 L868.8 1318.7 L874.1 1316.7 L879.6 1314.4 L885.3 1312.0 L891.2 1309.5 L897.1 1306.9 L903.1 1304.2 L909.1 1301.6 L915.0 1299.0 L921.0 1296.4 L927.1 1293.7 L933.3 1291.0 L939.5 1288.2 L945.7 1285.5 L951.7 1282.8 L957.5 1280.1 L963.0 1277.5 L963.0 1496.5 L630.5 1496.5Z" fill="#ffec99"/>
<path d="M963.0 1277.5 L968.2 1275.0 L973.1 1272.6 L977.9 1270.3 L982.5 1268.1 L987.0 1265.7 L991.6 1263.3 L996.2 1260.8 L1001.0 1258.0 L1006.0 1255.0 L1011.3 1251.9 L1016.6 1248.6 L1021.9 1245.2 L1027.2 1241.8 L1032.2 1238.4 L1037.1 1234.9 L1041.6 1231.6 L1045.7 1228.3 L1049.6 1225.1 L1053.2 1222.0 L1056.7 1218.8 L1060.0 1215.5 L1063.3 1212.2 L1066.6 1208.8 L1070.0 1205.2 L1073.5 1201.4 L1077.1 1197.4 L1080.7 1193.2 L1084.2 1189.0 L1087.6 1184.7 L1090.8 1180.5 L1093.8 1176.5 L1096.4 1172.7 L1098.6 1169.1 L1100.4 1165.8 L1101.9 1162.6 L1103.3 1159.5 L1104.5 1156.4 L1105.7 1153.2 L1107.1 1149.9 L1108.6 1146.3 L1110.3 1142.5 L1112.1 1138.6 L1113.9 1134.6 L1115.7 1130.4 L1117.5 1126.3 L1119.3 1122.1 L1121.1 1117.9 L1122.8 1113.8 L1124.4 1109.7 L1126.0 1105.6 L1127.5 1101.4 L1129.0 1097.3 L1130.5 1093.2 L1132.0 1089.1 L1133.5 1085.2 L1135.0 1081.3 L1136.6 1077.4 L1138.1 1073.6 L1139.8 1069.7 L1141.4 1065.9 L1142.9 1062.3 L1144.4 1058.8 L1145.9 1055.7 L1147.2 1052.8 L1148.3 1050.4 L1149.3 1048.4 L1150.1 1046.8 L1150.9 1045.3 L1151.8 1043.9 L1152.7 1042.4 L1153.9 1040.7 L1155.3 1038.6 L1157.1 1036.0 L1159.4 1033.0 L1161.9 1029.7 L1164.5 1026.3 L1167.0 1023.1 L1169.3 1020.1 L1171.2 1017.6 L1172.6 1015.8 L1172.6 1496.5 L963.0 1496.5Z" fill="#b2f2bb"/>
<line x1="101" y1="1497" x2="1178" y2="1497" stroke="#c9c9cf" stroke-width="1.2"/>
<line x1="125.5" y1="944" x2="125" y2="1462" stroke="#e03131" stroke-width="2.3" stroke-dasharray="4 8.5"/>
<line x1="680.5" y1="759" x2="471.5" y2="1438" stroke="#e8890c" stroke-width="3.3" stroke-dasharray="5.2 8.4"/>
<line x1="504.5" y1="556" x2="826.5" y2="1358" stroke="#fccb35" stroke-width="2.9" stroke-dasharray="5.2 8.4"/>
<line x1="1128.6" y1="439" x2="1124.7" y2="1204" stroke="#2f9e44" stroke-width="3.5" stroke-dasharray="5.2 8.4"/>
<line x1="641.2" y1="160" x2="641.2" y2="988" stroke="#1e1e1e" stroke-width="1.6"/>
<line x1="112" y1="573.2" x2="1170" y2="573.2" stroke="#1e1e1e" stroke-width="1.6"/>
<path d="M641.2 143 L650.8 164 L631.6 164Z" fill="#1e1e1e"/>
<path d="M641.2 1003 L650.8 984 L631.6 984Z" fill="#1e1e1e"/>
<path d="M96 573.2 L117 564 L117 582.6Z" fill="#1e1e1e"/>
<path d="M1186 573.2 L1165.5 564 L1165.5 582.6Z" fill="#1e1e1e"/>
<circle cx="625" cy="299.5" r="8.4" fill="#fcc72e"/>
<circle cx="581" cy="345" r="6" fill="#fcc72e"/>
<circle cx="626" cy="358" r="8.4" fill="#fcc72e"/>
<circle cx="585" cy="405.5" r="8.4" fill="#fcc72e"/>
<circle cx="623" cy="412.5" r="8.4" fill="#fcc72e"/>
<circle cx="460" cy="451" r="8.4" fill="#fcc72e"/>
<circle cx="543" cy="447" r="8.4" fill="#fcc72e"/>
<circle cx="579.5" cy="446" r="8.4" fill="#fcc72e"/>
<circle cx="389.5" cy="474" r="8.4" fill="#fcc72e"/>
<circle cx="458" cy="479" r="8.4" fill="#fcc72e"/>
<circle cx="515" cy="473" r="8.4" fill="#fcc72e"/>
<circle cx="605.5" cy="479" r="8.4" fill="#fcc72e"/>
<circle cx="570" cy="493" r="8.4" fill="#fcc72e"/>
<circle cx="542" cy="508" r="8.4" fill="#fcc72e"/>
<circle cx="437" cy="516" r="8.4" fill="#fcc72e"/>
<circle cx="368" cy="529" r="8.4" fill="#fcc72e"/>
<circle cx="430.5" cy="549" r="8.4" fill="#fcc72e"/>
<circle cx="501" cy="545" r="8.4" fill="#fcc72e"/>
<circle cx="621" cy="547.5" r="8.4" fill="#fcc72e"/>
<circle cx="1132" cy="214" r="8.4" fill="#2f9e44"/>
<circle cx="1064.8" cy="222.8" r="8.4" fill="#2f9e44"/>
<circle cx="1033.6" cy="251.4" r="8.4" fill="#2f9e44"/>
<circle cx="1125" cy="279.8" r="8.4" fill="#2f9e44"/>
<circle cx="1074.6" cy="286" r="8.4" fill="#2f9e44"/>
<circle cx="1002.6" cy="291.2" r="8.4" fill="#2f9e44"/>
<circle cx="954.6" cy="302" r="8.4" fill="#2f9e44"/>
<circle cx="1035" cy="307.2" r="8.4" fill="#2f9e44"/>
<circle cx="1104" cy="305.8" r="8.4" fill="#2f9e44"/>
<circle cx="1156.6" cy="316" r="8.4" fill="#2f9e44"/>
<circle cx="1137.4" cy="339.3" r="8.4" fill="#2f9e44"/>
<circle cx="1068.3" cy="363.9" r="8.4" fill="#2f9e44"/>
<circle cx="1096" cy="372.8" r="8.4" fill="#2f9e44"/>
<circle cx="1125" cy="384.5" r="8.4" fill="#2f9e44"/>
<circle cx="939.8" cy="423.6" r="8.4" fill="#2f9e44"/>
<circle cx="1027.7" cy="426.2" r="8.4" fill="#2f9e44"/>
<circle cx="1065.5" cy="425.5" r="8.4" fill="#2f9e44"/>
<circle cx="1104.6" cy="423.4" r="8.4" fill="#2f9e44"/>
<circle cx="1129" cy="427.4" r="8.4" fill="#2f9e44"/>
<circle cx="1003.4" cy="457.2" r="8.4" fill="#2f9e44"/>
<circle cx="362.5" cy="692" r="8.4" fill="#e03131"/>
<circle cx="291" cy="723" r="8.4" fill="#e03131"/>
<circle cx="189" cy="762.5" r="8.4" fill="#e03131"/>
<circle cx="216" cy="823" r="8.4" fill="#e03131"/>
<circle cx="255.5" cy="850" r="8.4" fill="#e03131"/>
<circle cx="179.5" cy="861.5" r="8.4" fill="#e03131"/>
<circle cx="348" cy="857" r="8.4" fill="#e03131"/>
<circle cx="271" cy="881.5" r="8.4" fill="#e03131"/>
<circle cx="256" cy="909.5" r="8.4" fill="#e03131"/>
<circle cx="126" cy="933" r="8.4" fill="#e03131"/>
<circle cx="661" cy="595" r="6.5" fill="#f08c00"/>
<circle cx="725" cy="597.5" r="8.4" fill="#f08c00"/>
<circle cx="805.5" cy="597" r="8.4" fill="#f08c00"/>
<circle cx="836.5" cy="606" r="8.4" fill="#f08c00"/>
<circle cx="899.5" cy="603" r="6" fill="#f08c00"/>
<circle cx="765" cy="626" r="8.4" fill="#f08c00"/>
<circle cx="801.5" cy="638" r="8.4" fill="#f08c00"/>
<circle cx="831.5" cy="645" r="8.4" fill="#f08c00"/>
<circle cx="680.5" cy="652.5" r="8.4" fill="#f08c00"/>
<circle cx="725.5" cy="664" r="8.4" fill="#f08c00"/>
<circle cx="778.5" cy="666" r="8.4" fill="#f08c00"/>
<circle cx="663.5" cy="677.5" r="8.4" fill="#f08c00"/>
<circle cx="893" cy="669" r="8.4" fill="#f08c00"/>
<circle cx="934.5" cy="660" r="8.4" fill="#f08c00"/>
<circle cx="694" cy="702" r="8.4" fill="#f08c00"/>
<circle cx="747.5" cy="709.5" r="8.4" fill="#f08c00"/>
<circle cx="830" cy="701" r="8.4" fill="#f08c00"/>
<circle cx="875.5" cy="722" r="8.4" fill="#f08c00"/>
<circle cx="730.5" cy="736" r="8.4" fill="#f08c00"/>
<circle cx="683" cy="749" r="8.4" fill="#f08c00"/>
<circle cx="125" cy="1472.5" r="8.4" fill="#e03131"/>
<circle cx="468.8" cy="1448" r="8.4" fill="#f08c00"/>
<circle cx="832.2" cy="1366" r="8" fill="#ffd43b"/>
<circle cx="1124.6" cy="1214.5" r="8.4" fill="#2f9e44"/>
<line x1="398" y1="275" x2="868" y2="274" stroke="#2f9e44" stroke-width="3.2" stroke-dasharray="14 12"/>
<path d="M889 272.6 L864.5 261.3 L864.5 283.6Z" fill="#2f9e44"/>
<line x1="756.5" y1="664" x2="497" y2="460" stroke="#5b42d8" stroke-width="3.2" stroke-dasharray="14 10.5"/>
<path d="M483.5 449.4 L508 455.5 L496.5 472Z" fill="#5b42d8" stroke="#5b42d8" stroke-width="1" stroke-linejoin="round"/>
<line x1="473" y1="918" x2="757" y2="692" stroke="#5b42d8" stroke-width="3.2" stroke-dasharray="14 10.5"/>
<path d="M773 679 L749.5 685.5 L763.2 700Z" fill="#5b42d8" stroke="#5b42d8" stroke-width="1" stroke-linejoin="round"/>
<ellipse cx="583.5" cy="526.8" rx="32" ry="30.3" fill="#fff" stroke="#1e1e1e" stroke-width="2"/>
<ellipse cx="584.1" cy="526.4" rx="31" ry="31" fill="none" stroke="#1e1e1e" stroke-width="1" transform="rotate(-12 583.5 526.8)"/>
<text x="584.0" y="543.3" text-anchor="middle" font-family='"DejaVu Sans", "Liberation Sans", sans-serif' font-size="46.5" fill="#1e1e1e" stroke="#1e1e1e" stroke-width="0.8">3</text>
<ellipse cx="694.1" cy="525.9" rx="32" ry="30.3" fill="#fff" stroke="#1e1e1e" stroke-width="2"/>
<ellipse cx="694.7" cy="525.5" rx="31" ry="31" fill="none" stroke="#1e1e1e" stroke-width="1" transform="rotate(-12 694.1 525.9)"/>
<text x="694.6" y="542.4" text-anchor="middle" font-family='"DejaVu Sans", "Liberation Sans", sans-serif' font-size="46.5" fill="#1e1e1e" stroke="#1e1e1e" stroke-width="0.8">4</text>
<ellipse cx="580.9" cy="624.7" rx="32" ry="30.3" fill="#fff" stroke="#1e1e1e" stroke-width="2"/>
<ellipse cx="581.5" cy="624.3000000000001" rx="31" ry="31" fill="none" stroke="#1e1e1e" stroke-width="1" transform="rotate(-12 580.9 624.7)"/>
<text x="581.4" y="641.2" text-anchor="middle" font-family='"DejaVu Sans", "Liberation Sans", sans-serif' font-size="46.5" fill="#1e1e1e" stroke="#1e1e1e" stroke-width="0.8">1</text>
<ellipse cx="691.6" cy="624.7" rx="32" ry="30.3" fill="#fff" stroke="#1e1e1e" stroke-width="2"/>
<ellipse cx="692.2" cy="624.3000000000001" rx="31" ry="31" fill="none" stroke="#1e1e1e" stroke-width="1" transform="rotate(-12 691.6 624.7)"/>
<text x="692.1" y="641.2" text-anchor="middle" font-family='"DejaVu Sans", "Liberation Sans", sans-serif' font-size="46.5" fill="#1e1e1e" stroke="#1e1e1e" stroke-width="0.8">2</text>
<text x="564.0" y="152.5" text-anchor="middle" font-family='"Liberation Sans", Arial, sans-serif' font-size="22.5" fill="#1e1e1e">Number of</text>
<text x="564.0" y="178.8" text-anchor="middle" font-family='"Liberation Sans", Arial, sans-serif' font-size="22.5" fill="#1e1e1e">Connections</text>
<text x="26.3" y="578.8" font-family='"Liberation Sans", Arial, sans-serif' font-size="22.5" fill="#1e1e1e" font-weight="normal">Value</text>
<text x="26.3" y="604.5" font-family='"Liberation Sans", Arial, sans-serif' font-size="22.5" fill="#1e1e1e" font-weight="normal">Generated</text>
<text x="667.5" y="168.8" font-family='"DejaVu Sans", "Liberation Sans", sans-serif' font-size="22" fill="#1e1e1e" font-weight="normal" textLength="47.5" lengthAdjust="spacingAndGlyphs" stroke="#1e1e1e" stroke-width="0.45">Fully</text>
<text x="667.5" y="196.0" font-family='"DejaVu Sans", "Liberation Sans", sans-serif' font-size="22" fill="#1e1e1e" font-weight="normal" textLength="112.5" lengthAdjust="spacingAndGlyphs" stroke="#1e1e1e" stroke-width="0.45">Connected</text>
<text x="107.0" y="520.5" font-family='"DejaVu Sans", "Liberation Sans", sans-serif' font-size="22" fill="#1e1e1e" font-weight="normal" textLength="63.0" lengthAdjust="spacingAndGlyphs" stroke="#1e1e1e" stroke-width="0.45">Linear</text>
<text x="107.5" y="548.8" font-family='"DejaVu Sans", "Liberation Sans", sans-serif' font-size="22" fill="#1e1e1e" font-weight="normal" textLength="81.3" lengthAdjust="spacingAndGlyphs" stroke="#1e1e1e" stroke-width="0.45">Growth</text>
<text x="1125.8" y="521.4" font-family='"DejaVu Sans", "Liberation Sans", sans-serif' font-size="22" fill="#1e1e1e" font-weight="normal" textLength="126.9" lengthAdjust="spacingAndGlyphs" stroke="#1e1e1e" stroke-width="0.45">Exponential</text>
<text x="1125.8" y="548.3" font-family='"DejaVu Sans", "Liberation Sans", sans-serif' font-size="22" fill="#1e1e1e" font-weight="normal" textLength="80.9" lengthAdjust="spacingAndGlyphs" stroke="#1e1e1e" stroke-width="0.45">Growth</text>
<text x="666.0" y="994.0" font-family='"DejaVu Sans", "Liberation Sans", sans-serif' font-size="22" fill="#1e1e1e" font-weight="normal" textLength="95.0" lengthAdjust="spacingAndGlyphs" stroke="#1e1e1e" stroke-width="0.45">Isolated</text>
<text x="447.5" y="254.5" font-family='"DejaVu Sans", "Liberation Sans", sans-serif' font-size="24" fill="#2f9e44" font-weight="normal" textLength="99.5" lengthAdjust="spacingAndGlyphs" stroke="#2f9e44" stroke-width="0.8">++Value</text>
<text x="191.7" y="387.0" font-family='"DejaVu Sans", "Liberation Sans", sans-serif' font-size="21" fill="#2b2b2b" font-weight="normal" textLength="353.3" lengthAdjust="spacingAndGlyphs" stroke="#2b2b2b" stroke-width="0.15">high connections poised to reap</text>
<text x="236.7" y="415.0" font-family='"DejaVu Sans", "Liberation Sans", sans-serif' font-size="21" fill="#2b2b2b" font-weight="normal" textLength="263.3" lengthAdjust="spacingAndGlyphs" stroke="#2b2b2b" stroke-width="0.15">value of network effect</text>
<text x="758.5" y="389.0" font-family='"DejaVu Sans", "Liberation Sans", sans-serif' font-size="21" fill="#2b2b2b" font-weight="normal" textLength="304.0" lengthAdjust="spacingAndGlyphs" stroke="#2b2b2b" stroke-width="0.15">high connections, high value</text>
<text x="240.3" y="800.0" font-family='"DejaVu Sans", "Liberation Sans", sans-serif' font-size="21" fill="#2b2b2b" font-weight="normal" textLength="273.9" lengthAdjust="spacingAndGlyphs" stroke="#2b2b2b" stroke-width="0.15">low connection, low value</text>
<text x="705.6" y="797.0" font-family='"DejaVu Sans", "Liberation Sans", sans-serif' font-size="21" fill="#2b2b2b" font-weight="normal" textLength="416.0" lengthAdjust="spacingAndGlyphs" stroke="#2b2b2b" stroke-width="0.15">moderate connections, poised to reap</text>
<text x="780.6" y="824.7" font-family='"DejaVu Sans", "Liberation Sans", sans-serif' font-size="21" fill="#2b2b2b" font-weight="normal" textLength="264.1" lengthAdjust="spacingAndGlyphs" stroke="#2b2b2b" stroke-width="0.15">value of network effect</text>
<text transform="translate(492,884) rotate(-38)" font-family='"DejaVu Sans", "Liberation Sans", sans-serif' font-size="21.5" fill="#5b42d8" stroke="#5b42d8" stroke-width="0.6" textLength="168" lengthAdjust="spacingAndGlyphs">++Connections</text>
<text transform="translate(731,634) rotate(38)" font-family='"DejaVu Sans", "Liberation Sans", sans-serif' font-size="25" fill="#5b42d8" stroke="#5b42d8" stroke-width="1" textLength="39" lengthAdjust="spacingAndGlyphs">++</text>
<text x="194.4" y="343.0" font-family='"Liberation Sans", Arial, sans-serif' font-size="29" fill="#1e1e1e" font-weight="normal" textLength="350.6" lengthAdjust="spacingAndGlyphs">Pre-Synergy Data Products</text>
<text x="729.0" y="342.5" font-family='"Liberation Sans", Arial, sans-serif' font-size="29" fill="#1e1e1e" font-weight="normal" textLength="368.5" lengthAdjust="spacingAndGlyphs">High-Synergy Data Products</text>
<text x="232.3" y="759.5" font-family='"Liberation Sans", Arial, sans-serif' font-size="29" fill="#1e1e1e" font-weight="normal" textLength="293.3" lengthAdjust="spacingAndGlyphs">Isolated Data Products</text>
<text x="743.9" y="757.0" font-family='"Liberation Sans", Arial, sans-serif' font-size="29" fill="#1e1e1e" font-weight="normal" textLength="328.1" lengthAdjust="spacingAndGlyphs">Connected Data Products</text>
<text x="152.0" y="1053.0" font-family='"Liberation Sans", Arial, sans-serif' font-size="24" fill="#333" font-weight="normal" textLength="209.3" lengthAdjust="spacingAndGlyphs">Value/ROI directly</text>
<text x="152.0" y="1088.0" font-family='"Liberation Sans", Arial, sans-serif' font-size="24" fill="#333" font-weight="normal" textLength="269.0" lengthAdjust="spacingAndGlyphs">proportional to number</text>
<text x="152.0" y="1122.5" font-family='"Liberation Sans", Arial, sans-serif' font-size="24" fill="#333" font-weight="normal" textLength="295.8" lengthAdjust="spacingAndGlyphs">of contextual connections</text>
<text x="599.6" y="1330.0" font-family='"Liberation Sans", Arial, sans-serif' font-size="22.5" fill="#5b42d8" font-weight="normal" textLength="150.4" lengthAdjust="spacingAndGlyphs" stroke="#5b42d8" stroke-width="0.35">Network Effect</text>
<text x="599.6" y="1359.5" font-family='"Liberation Sans", Arial, sans-serif' font-size="22.5" fill="#5b42d8" font-weight="normal" textLength="91.4" lengthAdjust="spacingAndGlyphs" stroke="#5b42d8" stroke-width="0.35">kicking in</text>
<path d="M700.7 1354.6 h7 M720 1354.6 h13.5 M746 1354.6 h8" stroke="#5b42d8" stroke-width="3.7"/>
<circle cx="760.5" cy="1356" r="8" fill="#5b42d8"/>
<rect x="45" y="1522.5" width="33" height="32.5" rx="3.5" fill="#1f86c8"/>
<text x="61.5" y="1550.5" text-anchor="middle" font-family='"Liberation Sans", sans-serif' font-weight="bold" font-size="27" fill="#fff" textLength="25" lengthAdjust="spacingAndGlyphs">in</text>
<text x="82.0" y="1548.8" font-family='"Liberation Sans", Arial, sans-serif' font-size="27" fill="#444" font-weight="normal" textLength="125.5" lengthAdjust="spacingAndGlyphs">/anismiles</text>
<text x="835.0" y="1548.5" font-family='"Liberation Sans", Arial, sans-serif' font-size="27" fill="#444" font-weight="normal" textLength="364.0" lengthAdjust="spacingAndGlyphs">curated by Modern Data 101</text>
<g><circle cx="1224.1" cy="1538.7" r="17" fill="#3a3f4b"/><path d="M1211 1548 L1207.6 1554.6 L1221 1554Z" fill="#3a3f4b"/><g stroke="#e4e6ec" stroke-width="1.4" fill="none" stroke-linecap="round"><path d="M1208.5 1534.4 Q1215.9 1526.6 1224.5 1527.7 Q1233.1 1527.3 1238.2 1529.3"/><path d="M1211.3 1536.3 Q1216.7 1544.5 1226.5 1548.8 L1237 1550"/><path d="M1224.5 1527.7 Q1231.6 1532.8 1234.7 1540.2 L1238.2 1548.4"/><path d="M1234.7 1540.2 Q1231.6 1545.3 1226.5 1548.8 Q1221.4 1552 1216.7 1553.9"/><path d="M1211.3 1536.3 Q1216.7 1530.5 1224.5 1527.7"/><path d="M1234.7 1540.2 L1238.2 1529.3"/><path d="M1211.3 1536.3 Q1208.9 1540.6 1209.3 1546.9"/></g><g fill="#fff"><circle cx="1224.5" cy="1527.7" r="1.8"/><circle cx="1211.3" cy="1536.3" r="1.8"/><circle cx="1234.7" cy="1540.2" r="1.8"/><circle cx="1226.5" cy="1548.8" r="1.8"/></g></g>
</svg>
</body></html>
